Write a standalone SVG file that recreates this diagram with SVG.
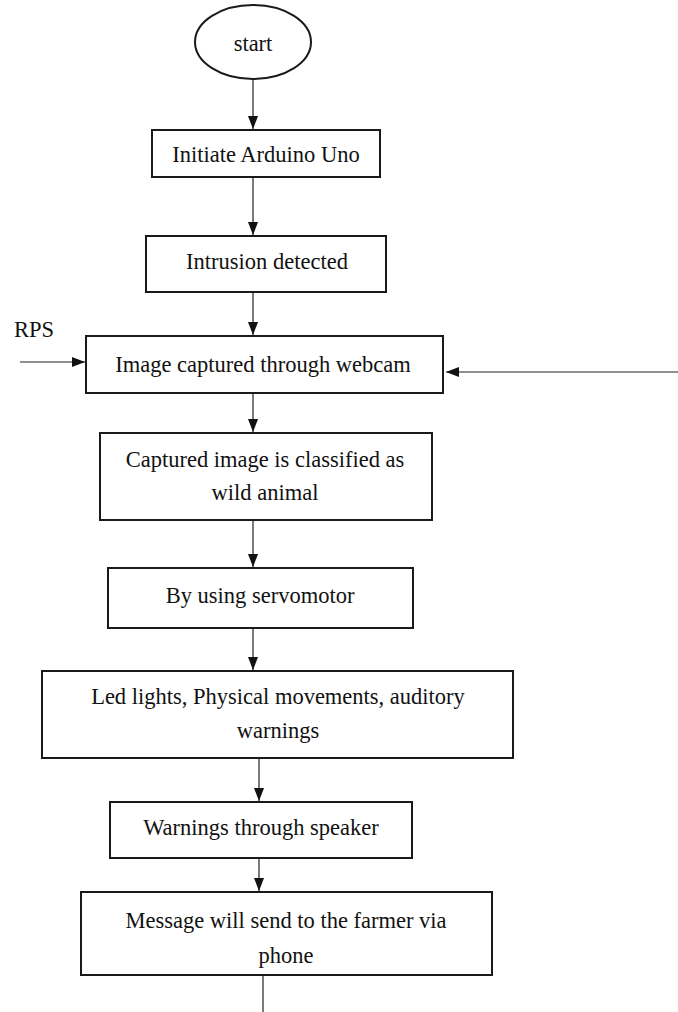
<svg xmlns="http://www.w3.org/2000/svg" width="678" height="1012" viewBox="0 0 678 1012">
<style>
.box{fill:#fff;stroke:#1a1a1a;stroke-width:2}
.t{font-family:"Liberation Serif","Times New Roman",serif;font-size:22.5px;fill:#111;text-anchor:middle}
.c{fill:none;stroke:#222;stroke-width:1.2}
</style>
<defs>
<marker id="ah" markerUnits="userSpaceOnUse" markerWidth="14" markerHeight="14" viewBox="0 0 14 14" refX="13" refY="7" orient="auto">
<path d="M0,2 L13,7 L0,12 Z" fill="#111"/>
</marker>
</defs>
<rect width="678" height="1012" fill="#fff"/>
<g id="connectors">
<line class="c" x1="253" y1="79" x2="253" y2="129" marker-end="url(#ah)"/>
<line class="c" x1="253" y1="177" x2="253" y2="235" marker-end="url(#ah)"/>
<line class="c" x1="253" y1="292" x2="253" y2="335" marker-end="url(#ah)"/>
<line class="c" x1="20" y1="362" x2="85" y2="362" marker-end="url(#ah)"/>
<line class="c" x1="678" y1="372" x2="446" y2="372" marker-end="url(#ah)"/>
<line class="c" x1="253" y1="393" x2="253" y2="432" marker-end="url(#ah)"/>
<line class="c" x1="253" y1="520" x2="253" y2="567" marker-end="url(#ah)"/>
<line class="c" x1="253" y1="628" x2="253" y2="670" marker-end="url(#ah)"/>
<line class="c" x1="259" y1="758" x2="259" y2="801" marker-end="url(#ah)"/>
<line class="c" x1="259" y1="858" x2="259" y2="891" marker-end="url(#ah)"/>
<line class="c" x1="263" y1="975" x2="263" y2="1012"/>
</g>
<g id="start">
<ellipse class="box" cx="253" cy="42" rx="58" ry="37"/>
<text class="t" x="253" y="51">start</text>
</g>
<g id="initiate">
<rect class="box" x="152" y="130" width="228" height="47"/>
<text class="t" x="266" y="162">Initiate Arduino Uno</text>
</g>
<g id="intrusion">
<rect class="box" x="146" y="236" width="240" height="56"/>
<text class="t" x="267" y="269">Intrusion detected</text>
</g>
<g id="rps">
<text class="t" x="34" y="337">RPS</text>
</g>
<g id="image">
<rect class="box" x="86" y="336" width="357" height="57"/>
<text class="t" x="263" y="372">Image captured through webcam</text>
</g>
<g id="classify">
<rect class="box" x="100" y="433" width="332" height="87"/>
<text class="t" x="265" y="467">Captured image is classified as</text>
<text class="t" x="265" y="500">wild animal</text>
</g>
<g id="servo">
<rect class="box" x="108" y="568" width="305" height="60"/>
<text class="t" x="260" y="603">By using servomotor</text>
</g>
<g id="led">
<rect class="box" x="42" y="671" width="471" height="87"/>
<text class="t" x="278" y="704">Led lights, Physical movements, auditory</text>
<text class="t" x="278" y="738">warnings</text>
</g>
<g id="speaker">
<rect class="box" x="110" y="802" width="302" height="56"/>
<text class="t" x="261" y="835">Warnings through speaker</text>
</g>
<g id="message">
<rect class="box" x="81" y="892" width="411" height="83"/>
<text class="t" x="286" y="928">Message will send to the farmer via</text>
<text class="t" x="286" y="963">phone</text>
</g>
</svg>
